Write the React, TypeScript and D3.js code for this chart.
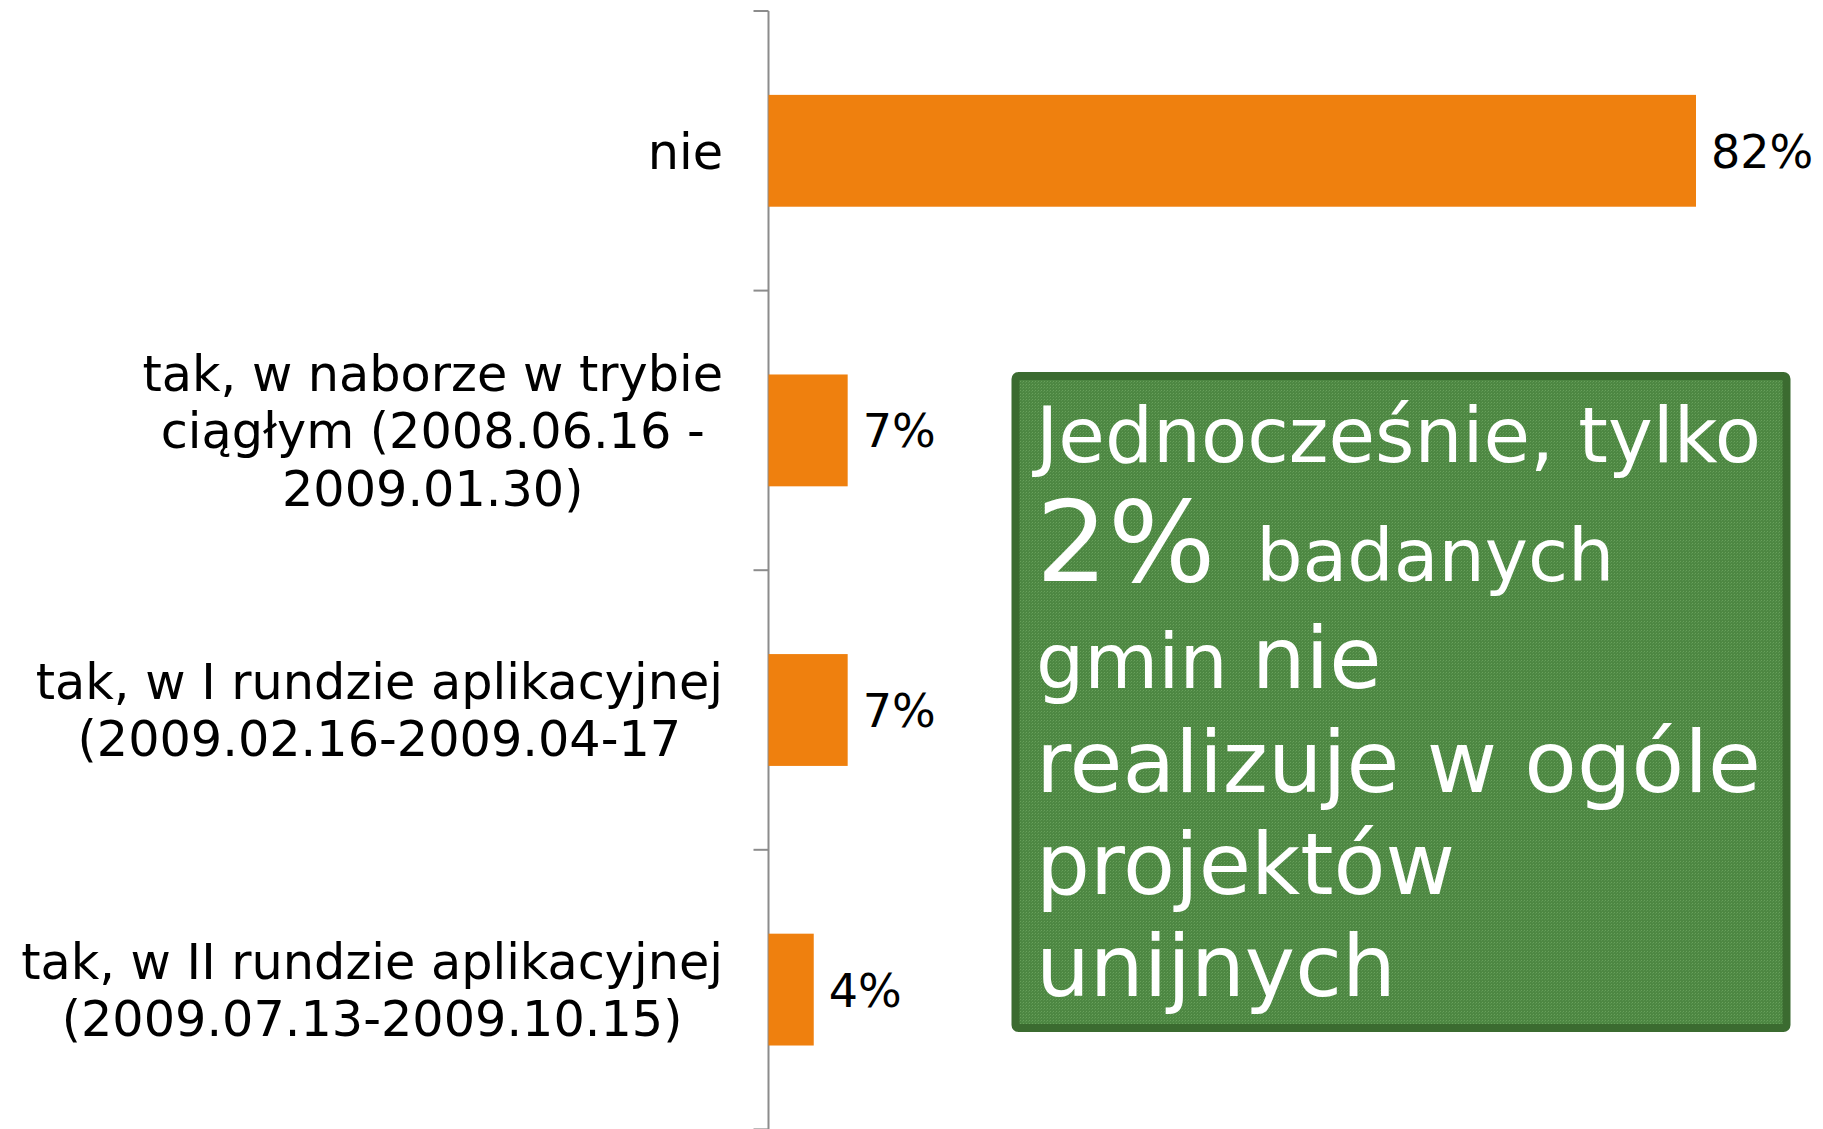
import React, { useMemo } from "react";
import * as d3 from "d3";

const categories = ["nie", "tak_ciagly", "tak_I", "tak_II"];
const categoryLines = [
  ["nie"],
  ["tak, w naborze w trybie", "ciągłym (2008.06.16 -", "2009.01.30)"],
  ["tak, w I rundzie aplikacyjnej", "(2009.02.16-2009.04-17"],
  ["tak, w II rundzie aplikacyjnej", "(2009.07.13-2009.10.15)"],
];
const values = [0.82, 0.07, 0.07, 0.04];
const valueLabels = ["82%", "7%", "7%", "4%"];

// callout text: [text, fontSize, dx] runs per line
const calloutLines: [string, number, number][][] = [
  [["Jednocześnie, tylko", 75.7, 0]],
  [["2%", 113, 0], ["badanych", 73, 41]],
  [["gmin ", 76, 0], ["nie", 85, 0]],
  [["realizuje w ogóle", 86, 0]],
  [["projektów", 85, 0]],
  [["unijnych", 85, 0]],
];
const calloutBaselines = [462, 581, 688, 792, 894, 996];

const W = 1823;
const H = 1129;
const FONT = "'DejaVu Sans', Verdana, sans-serif";
const LABEL_SIZE = 49.3;

const App = () => {
  const axisX = 768.5;
  const top = 11;
  const bottom = 1129.4;
  const labelRight = 723;

  const x = d3.scaleLinear().domain([0, 0.82]).range([axisX, 1696]);
  const y = d3
    .scaleBand()
    .domain(categories)
    .range([top, bottom])
    .paddingInner(0.6)
    .paddingOuter(0.3);

  const step = y.step();
  const ticks = d3.range(categories.length + 1).map((i) => top + i * step);
  const lineH = 57.5;

  // multi-line labels are centred on their widest line, block right-aligned
  const labelCentres = useMemo(() => {
    const ctx = document.createElement("canvas").getContext("2d");
    return categoryLines.map((lines) => {
      if (!ctx) return labelRight - 200;
      ctx.font = `${LABEL_SIZE}px 'DejaVu Sans'`;
      const w = d3.max(lines, (l) => ctx.measureText(l).width) as number;
      return labelRight - w / 2;
    });
  }, []);

  return (
    <svg
      width={W}
      height={H}
      style={{ position: "absolute", left: 0, top: 0, background: "#fff" }}
      fontFamily={FONT}
    >
      <defs>
        <pattern id="grain" width="3" height="3" patternUnits="userSpaceOnUse">
          <rect width="3" height="3" fill="#4d8742" />
          <rect x="0" y="0" width="1" height="1" fill="#68a05b" />
          <rect x="2" y="1" width="1" height="1" fill="#5a9450" />
        </pattern>
      </defs>

      {/* axis */}
      <line x1={axisX} x2={axisX} y1={top} y2={H} stroke="#8c8c8c" strokeWidth={2} />
      {ticks.map((t, i) => (
        <line key={i} x1={axisX - 15} x2={axisX} y1={t} y2={t} stroke="#8c8c8c" strokeWidth={2} />
      ))}

      {/* bars */}
      {categories.map((c, i) => (
        <rect
          key={c}
          x={axisX}
          y={y(c)}
          width={x(values[i]) - axisX}
          height={y.bandwidth()}
          fill="#ef800e"
        />
      ))}

      {/* value labels */}
      {categories.map((c, i) => (
        <text
          key={c}
          x={x(values[i]) + 15}
          y={(y(c) as number) + y.bandwidth() / 2}
          dy="0.37em"
          fontSize={46}
          fill="#000"
        >
          {valueLabels[i]}
        </text>
      ))}

      {/* category labels */}
      {categories.map((c, i) => {
        const lines = categoryLines[i];
        const cy = (y(c) as number) + y.bandwidth() / 2;
        const start = cy - ((lines.length - 1) * lineH) / 2;
        return (
          <text key={c} textAnchor="middle" fontSize={LABEL_SIZE} fill="#000">
            {lines.map((l, j) => (
              <tspan key={j} x={labelCentres[i]} y={start + j * lineH} dy="0.36em">
                {l}
              </tspan>
            ))}
          </text>
        );
      })}

      {/* callout box */}
      <rect
        x={1015.5}
        y={376}
        width={771}
        height={652}
        rx={3}
        fill="url(#grain)"
        stroke="#3b6b30"
        strokeWidth={8}
      />
      <text fill="#fff">
        {calloutLines.map((runs, i) => (
          <tspan key={i} x={1036} y={calloutBaselines[i]}>
            {runs.map(([t, s, dx], j) => (
              <tspan key={j} fontSize={s} dx={dx || undefined}>
                {t}
              </tspan>
            ))}
          </tspan>
        ))}
      </text>
    </svg>
  );
};

export default App;
